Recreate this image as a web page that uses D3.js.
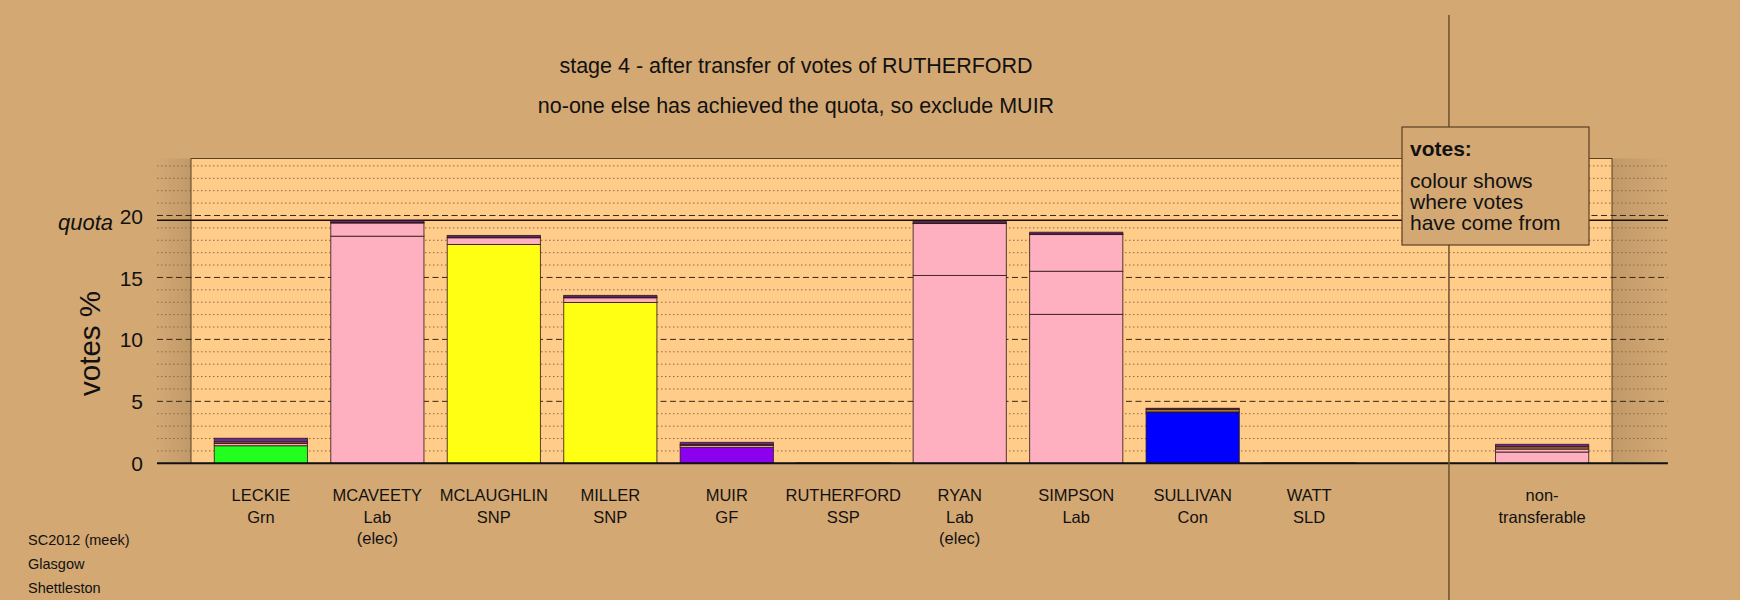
<!DOCTYPE html>
<html><head><meta charset="utf-8">
<script src="https://cdn.jsdelivr.net/npm/d3@7"></script>
<style>
html,body{margin:0;padding:0;background:#D3A873;}
svg{display:block;font-family:"Liberation Sans",Arial,sans-serif;}
</style></head><body>
<svg id="c" width="1740" height="600"></svg>
<script>
// ---------- data ----------
const candidates = ["LECKIE","MCAVEETY","MCLAUGHLIN","MILLER","MUIR","RUTHERFORD","RYAN","SIMPSON","SULLIVAN","WATT","non-"];
const partyLabels = ["Grn","Lab","SNP","SNP","GF","SSP","Lab","Lab","Con","SLD","transferable"];
const statusLabels = ["","(elec)","","","","","(elec)","","","",""];
const slots = [0,1,2,3,4,5,6,7,8,9,11];
const segSources = [
  ["Grn","Lab","SLD","SSP"],
  ["Lab","Lab","SLD","SSP"],
  ["SNP","Lab","SLD","SSP"],
  ["SNP","Lab","SLD","SSP"],
  ["GF","Lab","SLD","SSP"],
  ["SSP"],
  ["Lab","Lab","SLD","SSP"],
  ["Lab","Lab","Lab","SLD","SSP"],
  ["Con","SLD","SSP"],
  ["SLD"],
  ["Lab","Lab","SLD","SSP"]
];
const segValues = [
  [1.42,0.18,0.14,0.28],
  [18.33,1.07,0.04,0.15],
  [17.66,0.55,0.04,0.14],
  [12.98,0.38,0.05,0.14],
  [1.29,0.16,0.06,0.18],
  [0.03],
  [15.16,4.20,0.04,0.14],
  [12.02,3.48,2.97,0.04,0.14],
  [4.14,0.22,0.08],
  [0.03],
  [0.91,0.24,0.19,0.19]
];
const partyKeys = ["Grn","Lab","SNP","GF","SSP","Con","SLD"];
const partyColours = ["#22FF1E","#FFB0C0","#FFFF14","#8C00F0","#6E2A96","#0000FF","#A8742C"];
const yTicks = [0,5,10,15,20];
const minorTicks = [1,2,3,4,6,7,8,9,11,12,13,14,16,17,18,19,21,22,23,24];
const quota = 19.62;
const separatorSlot = 10.2;
const titleLines = ["stage 4 - after transfer of votes of RUTHERFORD","no-one else has achieved the quota, so exclude MUIR"];
const footerLines = ["SC2012 (meek)","Glasgow","Shettleston"];
const legendTitle = "votes:";
const legendLines = ["colour shows","where votes","have come from"];

// ---------- scales ----------
const svg = d3.select("#c");
const BG = "#D3A873";
const x = d3.scaleLinear().domain([-0.6, 11.6]).range([191, 1612]);
const y = d3.scaleLinear().domain([0, 24.6]).range([463.3, 158.5]);
const colour = d3.scaleOrdinal().domain(partyKeys).range(partyColours);
const halfW = 0.4;
const gridX0 = x(-0.892), gridX1 = x(12.08);

svg.append("rect").attr("width",1740).attr("height",600).attr("fill",BG);

const defs = svg.append("defs");
const gl = defs.append("linearGradient").attr("id","gl");
gl.append("stop").attr("offset","0%").attr("stop-color","#000").attr("stop-opacity",0);
gl.append("stop").attr("offset","100%").attr("stop-color","#000").attr("stop-opacity",0.09);
const gr = defs.append("linearGradient").attr("id","gr");
gr.append("stop").attr("offset","0%").attr("stop-color","#000").attr("stop-opacity",0.09);
gr.append("stop").attr("offset","100%").attr("stop-color","#000").attr("stop-opacity",0);

// shadows beside panel
svg.append("rect").attr("x",gridX0).attr("y",y(24.6)).attr("width",x(-0.6)-gridX0)
  .attr("height",y(0)-y(24.6)).attr("fill","url(#gl)");
svg.append("rect").attr("x",x(11.6)).attr("y",y(24.6)).attr("width",gridX1-x(11.6))
  .attr("height",y(0)-y(24.6)).attr("fill","url(#gr)");

// panel
svg.append("rect").attr("x",x(-0.6)).attr("y",y(24.6)).attr("width",x(11.6)-x(-0.6))
  .attr("height",y(0)-y(24.6)).attr("fill","#FFCC8A").attr("stroke","#5a4022").attr("stroke-width",1);

// minor grid
svg.append("g").selectAll("line").data(minorTicks).join("line")
  .attr("x1",gridX0).attr("x2",gridX1).attr("y1",d=>y(d)).attr("y2",d=>y(d))
  .attr("stroke","#8a6a44").attr("stroke-width",1).attr("stroke-dasharray","1.5,2.5");
// major grid
svg.append("g").selectAll("line").data(yTicks.filter(d=>d>0)).join("line")
  .attr("x1",gridX0).attr("x2",gridX1).attr("y1",d=>y(d)).attr("y2",d=>y(d))
  .attr("stroke","#3a2810").attr("stroke-width",1).attr("stroke-dasharray","6,3.5");
// quota line
svg.append("line").attr("x1",gridX0).attr("x2",gridX1).attr("y1",y(quota)).attr("y2",y(quota))
  .attr("stroke","#1a1008").attr("stroke-width",1.6);

// bars
const bars = svg.append("g");
candidates.forEach((c,i)=>{
  let cum = 0;
  const segs = segValues[i].map((v,j)=>{ const s={src:segSources[i][j],y0:cum,y1:cum+v}; cum+=v; return s; });
  bars.append("g").selectAll("rect").data(segs).join("rect")
    .attr("x",x(slots[i]-halfW)).attr("width",x(slots[i]+halfW)-x(slots[i]-halfW))
    .attr("y",d=>y(d.y1)).attr("height",d=>Math.max(0.6,y(d.y0)-y(d.y1)))
    .attr("fill",d=>colour(d.src))
    .attr("stroke","#2a1414").attr("stroke-opacity",0.8).attr("stroke-width",1);
});

// zero axis
svg.append("line").attr("x1",gridX0).attr("x2",gridX1).attr("y1",y(0)).attr("y2",y(0))
  .attr("stroke","#111").attr("stroke-width",2);

// y axis labels
const yAxis = d3.axisLeft(y).tickValues(yTicks).tickSize(0).tickPadding(0);
const ya = svg.append("g").attr("transform","translate(143,0)").call(yAxis);
ya.select(".domain").remove();
ya.selectAll("text").attr("font-size",21).attr("fill","#111")
  .attr("font-family","'Liberation Sans',Arial,sans-serif").attr("dy","0.36em");

svg.append("text").attr("x",113).attr("y",y(quota)+2).attr("dy","0.36em")
  .attr("text-anchor","end").attr("font-size",22).attr("font-style","italic").attr("fill","#111").text("quota");

svg.append("text").attr("transform","translate(100,343.5) rotate(-90)")
  .attr("text-anchor","middle").attr("font-size",29.5).attr("fill","#111").text("votes %");

// vertical separator
svg.append("line").attr("x1",x(separatorSlot)).attr("x2",x(separatorSlot)).attr("y1",15).attr("y2",600)
  .attr("stroke","#6b5132").attr("stroke-width",1.5);

// candidate labels
candidates.forEach((c,i)=>{
  const lines = [c, partyLabels[i], statusLabels[i]].filter(s=>s);
  svg.append("g").selectAll("text").data(lines).join("text")
    .attr("x",x(slots[i])).attr("y",(d,k)=>495+k*21.7).attr("dy","0.36em")
    .attr("text-anchor","middle").attr("font-size",16.5).attr("fill","#111").text(d=>d);
});

// titles
svg.append("g").selectAll("text").data(titleLines).join("text")
  .attr("x",796).attr("y",(d,k)=>65+k*40.5).attr("dy","0.36em")
  .attr("text-anchor","middle").attr("font-size",21.5).attr("fill","#111").text(d=>d);

// footer
svg.append("g").selectAll("text").data(footerLines).join("text")
  .attr("x",28).attr("y",(d,k)=>540+k*24).attr("dy","0.36em")
  .attr("font-size",14.5).attr("fill","#111").text(d=>d);

// legend box
svg.append("rect").attr("x",1402).attr("y",127).attr("width",187).attr("height",118)
  .attr("fill",BG).attr("stroke","#5a4022").attr("stroke-width",1.2);
svg.append("text").attr("x",1410).attr("y",148.5).attr("dy","0.36em").attr("font-size",21)
  .attr("font-weight","bold").attr("fill","#111").text(legendTitle);
svg.append("g").selectAll("text").data(legendLines).join("text")
  .attr("x",1410).attr("y",(d,k)=>180+k*21.3).attr("dy","0.36em")
  .attr("font-size",21).attr("fill","#111").text(d=>d);
</script>
</body></html>
